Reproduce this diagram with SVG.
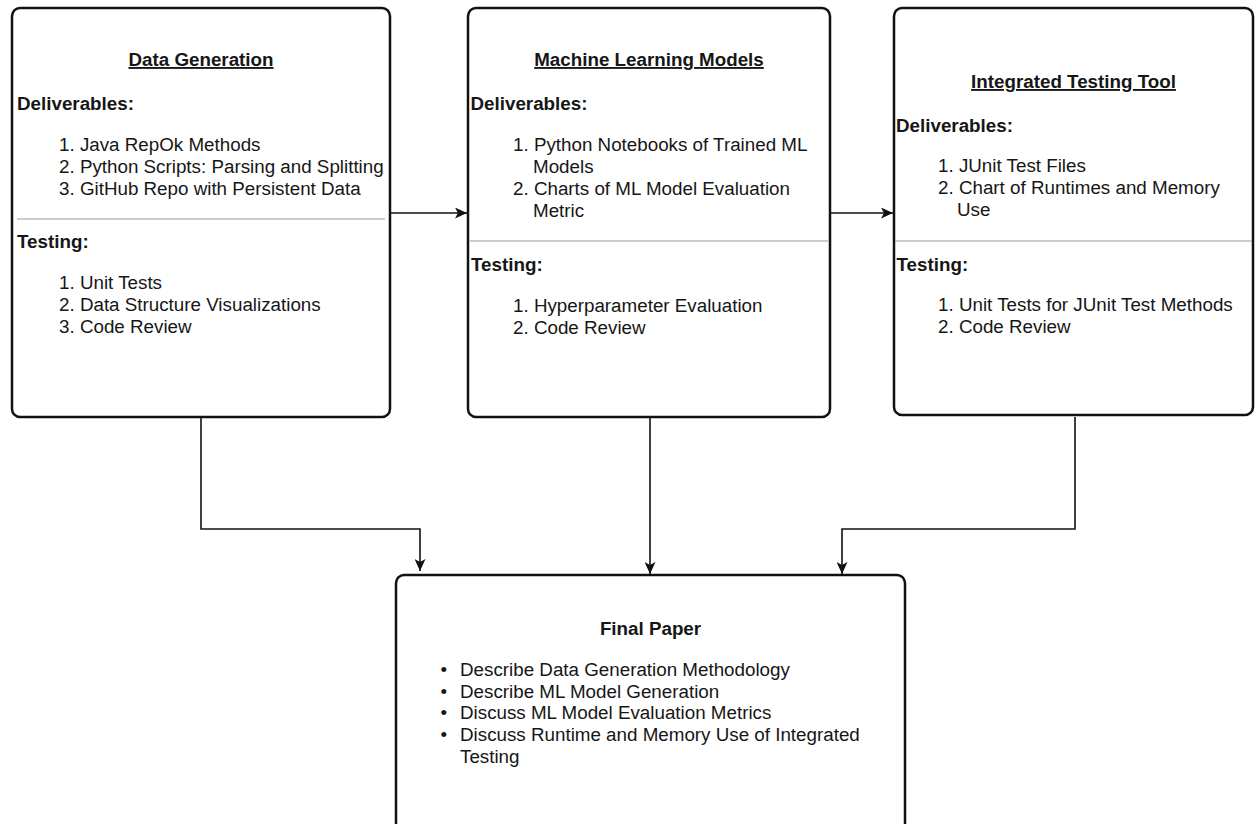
<svg xmlns="http://www.w3.org/2000/svg" width="1257" height="824" viewBox="0 0 1257 824">
<style>
.box{fill:#fff;stroke:#111;stroke-width:2.5}
.div{stroke:#9a9a9a;stroke-width:1.2}
text{font-family:"Liberation Sans",Arial,sans-serif;font-size:18.8px;fill:#161616}
.b{font-weight:bold}
.t{font-weight:bold;text-anchor:middle;text-decoration:underline}
.c{fill:none;stroke:#111;stroke-width:1.6}
</style>
<defs>
<marker id="arr" viewBox="0 0 12 11" refX="12" refY="5.5" markerWidth="12" markerHeight="11" markerUnits="userSpaceOnUse" orient="auto">
<path d="M0,0 L12,5.5 L0,11 L3,5.5 Z" fill="#111"/>
</marker>
</defs>
<rect width="1257" height="824" fill="#fff"/>
<g id="connectors">
<path class="c" d="M390,213 H467" marker-end="url(#arr)"/>
<path class="c" d="M830,213 H893" marker-end="url(#arr)"/>
<path class="c" d="M201,417 V529 H420 V571" marker-end="url(#arr)"/>
<path class="c" d="M650,417 V574" marker-end="url(#arr)"/>
<path class="c" d="M1075,417 V529 H842 V574" marker-end="url(#arr)"/>
</g>
<g id="data-generation">
<rect class="box" x="12" y="8" width="378" height="409" rx="8"/>
<line class="div" x1="17" y1="219" x2="385" y2="219"/>
<text class="t" x="201" y="66">Data Generation</text>
<text class="b" x="17" y="110">Deliverables:</text>
<text x="59" y="150.5">1. Java RepOk Methods</text>
<text x="59" y="172.5">2. Python Scripts: Parsing and Splitting</text>
<text x="59" y="194.5">3. GitHub Repo with Persistent Data</text>
<text class="b" x="17" y="248">Testing:</text>
<text x="59" y="289">1. Unit Tests</text>
<text x="59" y="311">2. Data Structure Visualizations</text>
<text x="59" y="333">3. Code Review</text>
</g>
<g id="ml-models">
<rect class="box" x="468" y="8" width="362" height="409" rx="8"/>
<line class="div" x1="470" y1="241" x2="828" y2="241"/>
<text class="t" x="649" y="66">Machine Learning Models</text>
<text class="b" x="470.5" y="110">Deliverables:</text>
<text x="513" y="150.5">1. Python Notebooks of Trained ML</text>
<text x="533" y="172.5">Models</text>
<text x="513" y="194.5">2. Charts of ML Model Evaluation</text>
<text x="533" y="216.5">Metric</text>
<text class="b" x="471" y="270.5">Testing:</text>
<text x="513" y="311.5">1. Hyperparameter Evaluation</text>
<text x="513" y="333.5">2. Code Review</text>
</g>
<g id="integrated-testing">
<rect class="box" x="894" y="8" width="359" height="407" rx="8"/>
<line class="div" x1="895" y1="241" x2="1252" y2="241"/>
<text class="t" x="1073.5" y="88">Integrated Testing Tool</text>
<text class="b" x="896" y="131.5">Deliverables:</text>
<text x="938" y="171.5">1. JUnit Test Files</text>
<text x="938" y="193.5">2. Chart of Runtimes and Memory</text>
<text x="957" y="215.5">Use</text>
<text class="b" x="896.5" y="270.5">Testing:</text>
<text x="938" y="311">1. Unit Tests for JUnit Test Methods</text>
<text x="938" y="333">2. Code Review</text>
</g>
<g id="final-paper">
<rect class="box" x="396" y="575" width="509" height="270" rx="8"/>
<text class="b" x="650.5" y="635" text-anchor="middle">Final Paper</text>
<text x="440.5" y="676">•</text><text x="460" y="676">Describe Data Generation Methodology</text>
<text x="440.5" y="697.5">•</text><text x="460" y="697.5">Describe ML Model Generation</text>
<text x="440.5" y="719">•</text><text x="460" y="719">Discuss ML Model Evaluation Metrics</text>
<text x="440.5" y="741">•</text><text x="460" y="741">Discuss Runtime and Memory Use of Integrated</text>
<text x="460" y="763">Testing</text>
</g>
</svg>
